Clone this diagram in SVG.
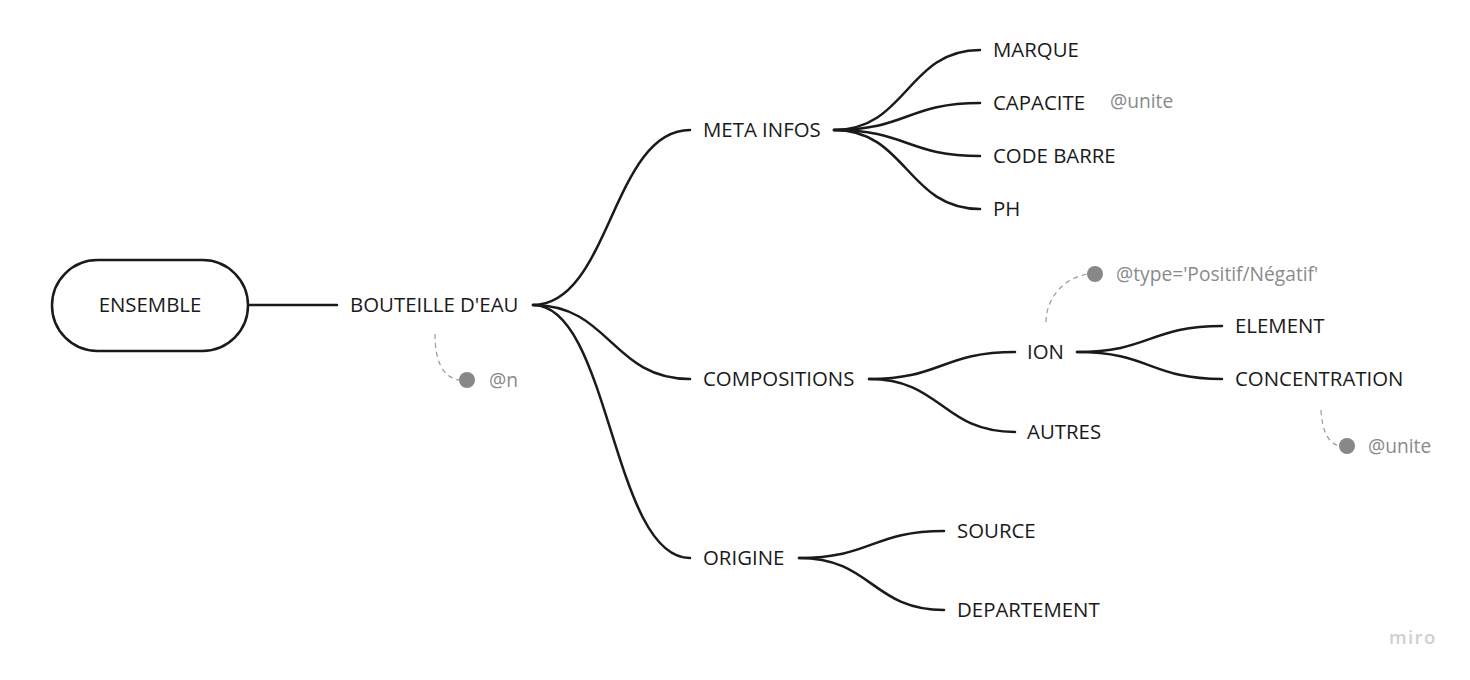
<svg xmlns="http://www.w3.org/2000/svg" width="1470" height="680" viewBox="0 0 1470 680">
<style>
.t{font-family:"Open Sans","Noto Sans",sans-serif;font-size:20.4px;fill:#1a1a1a;}
.a{font-family:"Open Sans","Noto Sans",sans-serif;font-size:19.2px;fill:#8a8a8a;}
.c{fill:none;stroke:#1a1a1a;stroke-width:2.5;stroke-linecap:round;}
.d{fill:none;stroke:#999;stroke-width:1.2;stroke-dasharray:5 4;}
.dot{fill:#888;}
</style>
<rect width="1470" height="680" fill="#fff"/>
<g id="connectors">
<path class="c" d="M248 305 L337 305"/>
<path class="c" d="M533 305 C610 305 612 130 690 130"/>
<path class="c" d="M533 305 C610 305 612 379 690 379"/>
<path class="c" d="M533 305 C610 305 612 558 690 558"/>
<path class="c" d="M834 130 C907 130 907 50 980 50"/>
<path class="c" d="M834 130 C907 130 907 103 980 103"/>
<path class="c" d="M834 130 C907 130 907 156 980 156"/>
<path class="c" d="M834 130 C907 130 907 209 980 209"/>
<path class="c" d="M869 379 C942 379 942 352 1015 352"/>
<path class="c" d="M869 379 C942 379 942 432 1015 432"/>
<path class="c" d="M1077 352 C1150 352 1150 326 1222 326"/>
<path class="c" d="M1077 352 C1150 352 1150 379 1222 379"/>
<path class="c" d="M799 558 C872 558 872 531 944 531"/>
<path class="c" d="M799 558 C872 558 872 610 944 610"/>
<path class="d" d="M435 334 C435 360 442 378 460 380"/>
<path class="d" d="M1046 322 C1046 300 1062 278 1088 274"/>
<path class="d" d="M1321 410 C1322 430 1328 444 1340 446"/>
</g>
<g id="ensemble">
<rect x="52" y="260" width="196" height="91" rx="45.5" fill="#fff" stroke="#1a1a1a" stroke-width="2.5"/>
<text class="t" x="150" y="312.3" text-anchor="middle">ENSEMBLE</text>
</g>
<g id="bouteille"><text class="t" x="350" y="312.3">BOUTEILLE D'EAU</text></g>
<g id="n-attr"><circle class="dot" cx="467" cy="380" r="8"/><text class="a" x="489" y="386.5">@n</text></g>
<g id="meta"><text class="t" x="703" y="137.3">META INFOS</text></g>
<g id="marque"><text class="t" x="993" y="57.3">MARQUE</text></g>
<g id="capacite"><text class="t" x="993" y="110.3">CAPACITE</text><text class="a" x="1110" y="107.5">@unite</text></g>
<g id="codebarre"><text class="t" x="993" y="163.3">CODE BARRE</text></g>
<g id="ph"><text class="t" x="993" y="216.3">PH</text></g>
<g id="compositions"><text class="t" x="703" y="386.3">COMPOSITIONS</text></g>
<g id="ion"><text class="t" x="1027" y="359.3">ION</text></g>
<g id="type-attr"><circle class="dot" cx="1095" cy="274" r="8"/><text class="a" x="1116" y="280.5">@type='Positif/Négatif'</text></g>
<g id="autres"><text class="t" x="1027" y="439.3">AUTRES</text></g>
<g id="element"><text class="t" x="1235" y="333.3">ELEMENT</text></g>
<g id="concentration"><text class="t" x="1235" y="386.3">CONCENTRATION</text></g>
<g id="unite-attr"><circle class="dot" cx="1347" cy="446" r="8"/><text class="a" x="1368" y="452.5">@unite</text></g>
<g id="origine"><text class="t" x="703" y="565.3">ORIGINE</text></g>
<g id="source"><text class="t" x="957" y="538.3">SOURCE</text></g>
<g id="departement"><text class="t" x="957" y="617.3">DEPARTEMENT</text></g>
<text x="1389" y="644" font-family="'Open Sans','Noto Sans',sans-serif" font-size="18.5" font-weight="600" fill="#cfcfcf" letter-spacing="1.4">miro</text>
</svg>
